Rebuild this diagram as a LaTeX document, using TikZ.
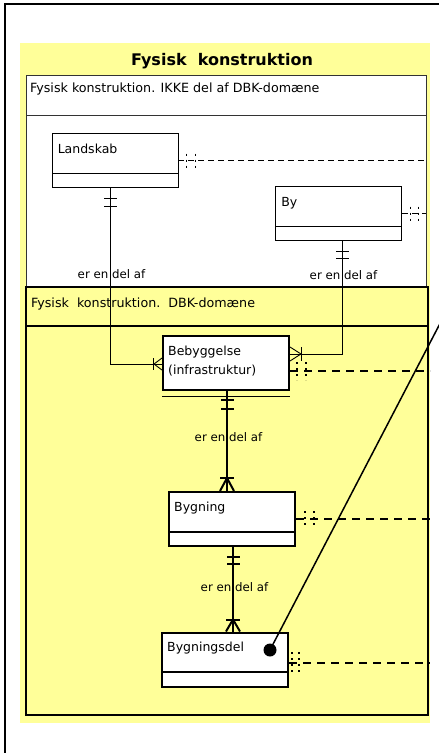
\documentclass[tikz,border=0pt]{standalone}
\usepackage{fontspec}
\setmainfont{DejaVu Sans}
\usetikzlibrary{positioning}
\definecolor{pakkegul}{HTML}{FFFF99}

\begin{document}
\begin{tikzpicture}[x=1pt, y=-1pt,
	klasse/.style={draw, fill=white, minimum width=126pt, minimum height=54pt, inner sep=0pt},
	delt/.style={path picture={\draw ([yshift=14.5pt]path picture bounding box.south west) -- ([yshift=14.5pt]path picture bounding box.south east);}},
	navn/.style={anchor=base west, inner sep=0pt, xshift=6pt, yshift=-20pt, font=\fontsize{12.5}{15}\selectfont},
	pakketekst/.style={anchor=base west, inner sep=0pt, font=\fontsize{12.7}{15}\selectfont},
	rolle/.style={font=\fontsize{11.8}{14}\selectfont, inner sep=0pt},
	tynd/.style={line width=0.9pt},
	tyk/.style={line width=2pt},
	stiplet/.style={tynd, dash pattern=on 6pt off 4pt},
	tykstiplet/.style={tyk, dash pattern=on 8pt off 6pt},
	prikket/.style={dash pattern=on 2pt off 4pt}]
	\useasboundingbox (0,0) rectangle (439,753);

	% ramme og pakker
	\draw [line width=2.2pt] (5,753) -- (5,4) -- (439,4);
	\fill [pakkegul] (20,43) rectangle (430,723);
	\node at (222,61) [font=\bfseries\fontsize{16}{19}\selectfont] (titel) {Fysisk\ \ konstruktion};
	\draw [tynd, draw=black!80, fill=white] (26,75) rectangle (426,290);
	\draw [tynd, draw=black!80] (26,115) -- (426,115);
	\node at (30,92) [pakketekst] (ikkedbk) {Fysisk konstruktion. IKKE del af DBK-domæne};
	\draw [line width=2.4pt, fill=pakkegul] (26,287) rectangle (428,715);
	\draw [line width=2.4pt] (26,326) -- (428,326);
	\node at (31,307) [pakketekst] (dbk) {Fysisk\ \ konstruktion.\ \ DBK-domæne};

	% klasser
	\node at (115,160.5) [klasse, delt, tynd, label={[navn]north west:Landskab}] (landskab) {};
	\node at (338.5,213.5) [klasse, delt, tynd, label={[navn]north west:By}] (by) {};
	\node at (226,363) [klasse, tyk, label={[navn]north west:Bebyggelse}, label={[navn, yshift=-19pt]north west:(infrastruktur)}] (bebyggelse) {};
	\node at (232,519) [klasse, delt, tyk, label={[navn]north west:Bygning}] (bygning) {};
	\node at (225,659.5) [klasse, delt, tyk, label={[navn]north west:Bygningsdel}] (bygningsdel) {};
	\draw [tynd] ([yshift=-5pt]bebyggelse.south west) -- ([yshift=-5pt]bebyggelse.south east);

	% er en del af
	\draw [tynd] ([xshift=-5pt]landskab.south) |- ([yshift=-1pt]bebyggelse.west)
		node[pos=0.245, rolle, xshift=1.5pt] {er en del af};
	\draw [tynd] ([xshift=-5pt]landskab.south) ++(-6,10) -- ++(13,0) ++(-13,8) -- ++(13,0);
	\draw [tynd] ([yshift=-1pt]bebyggelse.west) ++(-9,-6) -- ++(0,12);
	\draw [tynd] ([yshift=-1pt]bebyggelse.west) ++(0,-6) -- ++(-8,6) -- ++(8,6);

	\draw [tynd] ([xshift=3.5pt]by.south) |- ([yshift=9pt]bebyggelse.east)
		node[pos=0.15, rolle, xshift=1.5pt] {er en del af};
	\draw [tynd] ([xshift=3.5pt]by.south) ++(-6,10) -- ++(13,0) ++(-13,7) -- ++(13,0);
	\draw [tynd] ([yshift=9pt]bebyggelse.east) ++(11,-7) -- ++(0,14);
	\draw [tynd] ([yshift=9pt]bebyggelse.east) ++(0,-7) -- ++(11,7) -- ++(-11,7);

	\draw [tyk] ([xshift=1pt]bebyggelse.south) -- ([xshift=-5pt]bygning.north)
		node[pos=0.46, rolle, xshift=1.5pt] {er en del af};
	\draw [tyk] ([xshift=1pt]bebyggelse.south) ++(-6,9) -- ++(13,0) ++(-13,9) -- ++(13,0);
	\draw [tyk] ([xshift=-5pt]bygning.north) ++(-7,-13) -- ++(14,0);
	\draw [tyk] ([xshift=-5pt]bygning.north) ++(-7,0) -- ++(7,-13) -- ++(7,13);

	\draw [tyk] ([xshift=1pt]bygning.south) -- ([xshift=8pt]bygningsdel.north)
		node[pos=0.48, rolle, xshift=1.5pt] {er en del af};
	\draw [tyk] ([xshift=1pt]bygning.south) ++(-6,10) -- ++(13,0) ++(-13,7) -- ++(13,0);
	\draw [tyk] ([xshift=8pt]bygningsdel.north) ++(-7,-12) -- ++(14,0);
	\draw [tyk] ([xshift=8pt]bygningsdel.north) ++(-7,0) -- ++(7,-12) -- ++(7,12);

	% afskaarne relationer
	\coordinate (landskab-ud) at (426,160.5);
	\coordinate (by-ud) at (426,213.5);
	\coordinate (bebyggelse-ud) at (430,371);
	\coordinate (bygning-ud) at (430,519);
	\coordinate (bygningsdel-ud) at (430,663);
	\draw [stiplet] (landskab.east) -- (landskab-ud);
	\draw [tynd, prikket] (landskab.east) ++(8,-7) -- ++(0,14) ++(9,-14) -- ++(0,14);
	\draw [stiplet] (by.east) -- (by-ud);
	\draw [tynd, prikket] (by.east) ++(8,-7) -- ++(0,14) ++(8,-14) -- ++(0,14);
	\draw [tykstiplet] ([yshift=-8pt]bebyggelse.east) -- (bebyggelse-ud);
	\draw [tyk, prikket] ([yshift=-8pt]bebyggelse.east) ++(7,-9) -- ++(0,18) ++(9,-18) -- ++(0,18);
	\draw [tykstiplet] (bygning.east) -- (bygning-ud);
	\draw [tyk, prikket] (bygning.east) ++(9,-8) -- ++(0,16) ++(9,-16) -- ++(0,16);
	\draw [tykstiplet] ([yshift=-3.5pt]bygningsdel.east) -- (bygningsdel-ud);
	\draw [tyk, prikket] ([yshift=-3.5pt]bygningsdel.east) ++(3,-11) -- ++(0,22) ++(7,-22) -- ++(0,22);

	% note
	\node at (270,650) [circle, fill, inner sep=0pt, minimum size=13pt] (prik) {};
	\coordinate (note) at (446,312);
	\draw [line width=1.5pt] (prik.center) -- (note);
\end{tikzpicture}
\end{document}
